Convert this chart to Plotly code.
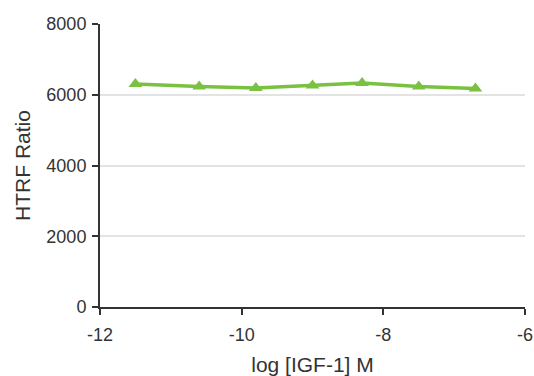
import plotly.graph_objects as go

# log concentration of IGF-1 (M) and measured HTRF ratio
log_conc = [-11.5, -10.6, -9.8, -9.0, -8.3, -7.5, -6.7]
htrf_ratio = [6305, 6230, 6190, 6265, 6330, 6235, 6180]

x_ticks = [-12, -10, -8, -6]
y_ticks = [0, 2000, 4000, 6000, 8000]

green = "#7ac142"
axis_color = "#333333"

fig = go.Figure(
    go.Scatter(
        x=log_conc,
        y=htrf_ratio,
        mode="lines+markers",
        line=dict(color=green, width=3.5),
        marker=dict(symbol="triangle-up", size=12, color=green),
        showlegend=False,
    )
)

fig.update_layout(
    width=534,
    height=376,
    margin=dict(l=100, r=9, t=24, b=69),
    plot_bgcolor="white",
    paper_bgcolor="white",
    font=dict(family="Liberation Sans, Arial, sans-serif", color=axis_color, size=18),
)

fig.update_xaxes(
    range=[-12, -6],
    tickvals=x_ticks,
    ticktext=[str(v) for v in x_ticks],
    automargin=False,
    showgrid=False,
    zeroline=False,
    showline=True,
    linecolor=axis_color,
    linewidth=2,
    ticks="outside",
    ticklen=6,
    tickwidth=2,
    tickcolor=axis_color,
    tickfont=dict(size=18),
    ticklabelstandoff=4,
    title=dict(text="log [IGF-1] M", font=dict(size=21), standoff=18),
)

fig.update_yaxes(
    range=[0, 8000],
    tickvals=y_ticks,
    ticktext=[str(v) for v in y_ticks],
    automargin=False,
    showgrid=True,
    gridcolor="#e3e3e3",
    gridwidth=1.5,
    zeroline=False,
    showline=True,
    linecolor=axis_color,
    linewidth=2,
    ticks="outside",
    ticklen=6,
    tickwidth=2,
    tickcolor=axis_color,
    tickfont=dict(size=18),
    ticklabelstandoff=2,
    title=dict(text="HTRF Ratio", font=dict(size=21), standoff=10),
)

fig.write_html("out.html")
